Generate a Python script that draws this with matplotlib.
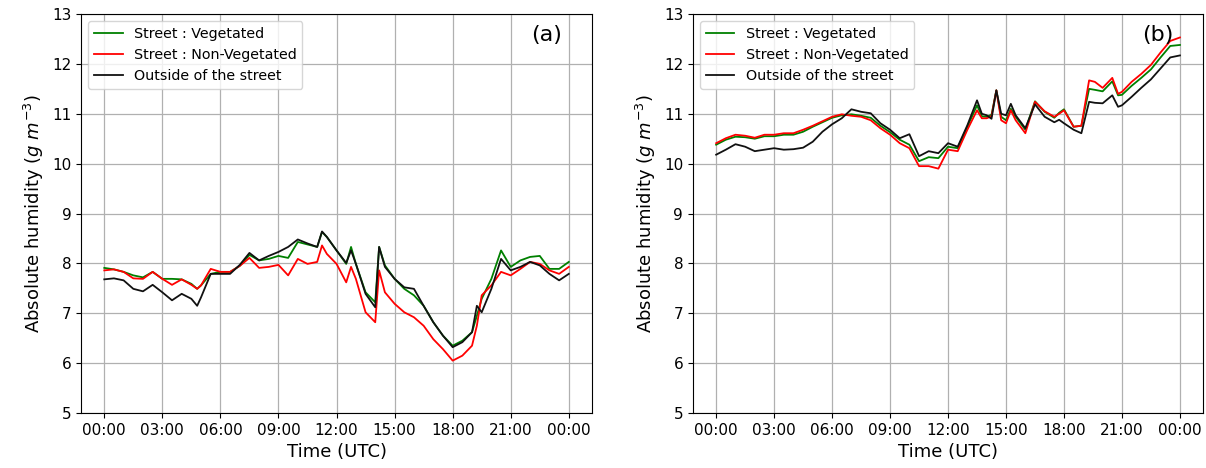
import numpy as np
import matplotlib
matplotlib.use("Agg")
import matplotlib.pyplot as plt

# Panel (a): hours since 00:00 UTC and absolute humidity (g m-3)
hours_a = [0, 0.5, 1, 1.5, 2, 2.5, 3, 3.5, 4, 4.5, 4.8, 5, 5.5, 6, 6.5, 7, 7.5, 8, 8.5, 9,
           9.5, 10, 10.5, 11, 11.25, 11.5, 12, 12.5, 12.75, 13, 13.5, 14, 14.2, 14.5, 15,
           15.5, 16, 16.5, 17, 17.5, 18, 18.5, 19, 19.25, 19.5, 20, 20.5, 21, 21.5, 22,
           22.5, 23, 23.5, 24]
veg_a = [7.91, 7.88, 7.83, 7.76, 7.72, 7.83, 7.69, 7.69, 7.68, 7.59, 7.49, 7.56, 7.79, 7.83,
         7.83, 7.95, 8.17, 8.06, 8.09, 8.15, 8.11, 8.43, 8.38, 8.33, 8.63, 8.53, 8.26, 7.99,
         8.33, 7.99, 7.42, 7.22, 8.33, 7.96, 7.69, 7.49, 7.36, 7.15, 6.82, 6.55, 6.35, 6.45,
         6.62, 6.95, 7.29, 7.69, 8.26, 7.93, 8.06, 8.13, 8.15, 7.89, 7.89, 8.03]
nonveg_a = [7.86, 7.88, 7.83, 7.70, 7.69, 7.83, 7.69, 7.57, 7.68, 7.57, 7.49, 7.56, 7.89, 7.83,
            7.83, 7.95, 8.11, 7.91, 7.93, 7.97, 7.76, 8.09, 7.99, 8.03, 8.36, 8.19, 7.99, 7.62,
            7.93, 7.69, 7.02, 6.82, 7.86, 7.42, 7.19, 7.02, 6.92, 6.75, 6.48, 6.28, 6.05, 6.15,
            6.35, 6.75, 7.36, 7.56, 7.83, 7.76, 7.89, 8.03, 7.99, 7.86, 7.79, 7.93]
outside_a = [7.68, 7.70, 7.66, 7.49, 7.44, 7.57, 7.42, 7.26, 7.39, 7.29, 7.15, 7.32, 7.79, 7.79,
             7.79, 7.97, 8.21, 8.06, 8.15, 8.23, 8.33, 8.48, 8.40, 8.33, 8.64, 8.53, 8.26, 8.01,
             8.26, 7.99, 7.39, 7.12, 8.33, 7.93, 7.69, 7.52, 7.49, 7.15, 6.82, 6.55, 6.32, 6.42,
             6.62, 7.15, 7.02, 7.49, 8.09, 7.86, 7.93, 8.03, 7.96, 7.79, 7.66, 7.79]

# Panel (b)
hours_b = [0, 0.5, 1, 1.5, 2, 2.5, 3, 3.5, 4, 4.5, 5, 5.5, 6, 6.5, 7, 7.5, 8, 8.5, 9, 9.5,
           10, 10.5, 11, 11.5, 12, 12.5, 13, 13.5, 13.75, 14, 14.25, 14.5, 14.75, 15, 15.25,
           15.5, 16, 16.5, 17, 17.5, 17.75, 18, 18.5, 18.9, 19.3, 19.6, 20, 20.5, 20.8, 21,
           21.5, 22, 22.5, 23, 23.5, 24]
veg_b = [10.38, 10.48, 10.54, 10.53, 10.50, 10.55, 10.55, 10.58, 10.58, 10.64, 10.74, 10.83,
         10.92, 10.97, 10.99, 10.96, 10.92, 10.76, 10.63, 10.48, 10.38, 10.05, 10.13, 10.11,
         10.34, 10.31, 10.74, 11.17, 10.95, 10.94, 10.98, 11.47, 10.94, 10.87, 11.10, 10.94,
         10.68, 11.25, 11.04, 10.92, 11.02, 11.09, 10.74, 10.76, 11.50, 11.48, 11.45, 11.65,
         11.37, 11.38, 11.56, 11.72, 11.89, 12.13, 12.36, 12.38]
nonveg_b = [10.41, 10.51, 10.58, 10.56, 10.52, 10.58, 10.58, 10.61, 10.61, 10.68, 10.76, 10.85,
            10.94, 10.99, 10.96, 10.94, 10.87, 10.71, 10.58, 10.41, 10.31, 9.95, 9.95, 9.90,
            10.28, 10.25, 10.68, 11.07, 10.91, 10.91, 10.95, 11.47, 10.87, 10.81, 11.07, 10.87,
            10.61, 11.24, 11.05, 10.94, 11.00, 11.07, 10.74, 10.76, 11.67, 11.64, 11.52, 11.72,
            11.40, 11.44, 11.64, 11.80, 11.98, 12.23, 12.46, 12.53]
outside_b = [10.18, 10.28, 10.39, 10.34, 10.25, 10.28, 10.31, 10.28, 10.29, 10.32, 10.44, 10.64,
             10.79, 10.91, 11.09, 11.04, 11.01, 10.81, 10.68, 10.51, 10.59, 10.15, 10.25, 10.21,
             10.41, 10.34, 10.77, 11.27, 11.00, 10.97, 10.90, 11.47, 11.00, 10.97, 11.20, 10.97,
             10.71, 11.19, 10.94, 10.83, 10.88, 10.81, 10.68, 10.61, 11.24, 11.22, 11.21, 11.37,
             11.14, 11.17, 11.34, 11.52, 11.69, 11.91, 12.13, 12.17]

tick_hours = [0, 3, 6, 9, 12, 15, 18, 21, 24]
tick_labels = ["00:00", "03:00", "06:00", "09:00", "12:00", "15:00", "18:00", "21:00", "00:00"]
series_labels = ["Street : Vegetated", "Street : Non-Vegetated", "Outside of the street"]
panel_tags = ["(a)", "(b)"]

fig = plt.figure(figsize=(12.06, 4.68), dpi=100)
ax_a = fig.add_axes([0.0672, 0.1175, 0.4237, 0.8525])
ax_b = fig.add_axes([0.5746, 0.1175, 0.4230, 0.8525])

panels = [
    (ax_a, hours_a, veg_a, nonveg_a, outside_a),
    (ax_b, hours_b, veg_b, nonveg_b, outside_b),
]
for (ax, t, veg, nonveg, outside), tag in zip(panels, panel_tags):
    ax.plot(t, veg, color="green", lw=1.3, label=series_labels[0])
    ax.plot(t, nonveg, color="red", lw=1.3, label=series_labels[1])
    ax.plot(t, outside, color="#111111", lw=1.3, label=series_labels[2])
    ax.set_ylim(5, 13)
    ax.set_xlim(-1.2, 25.2)
    ax.set_xticks(tick_hours)
    ax.set_xticklabels(tick_labels)
    ax.tick_params(labelsize=11)
    ax.grid(True, color="#b0b0b0", lw=0.9)
    ax.set_xlabel("Time (UTC)", fontsize=13)
    ax.set_ylabel(r"Absolute humidity ($g\ m^{-3}$)", fontsize=13)
    ax.legend(loc="upper left", fontsize=10.3)
    ax.text(0.912, 0.947, tag, transform=ax.transAxes, fontsize=16,
            ha="center", va="center")

fig.savefig("out.png", dpi=100)
